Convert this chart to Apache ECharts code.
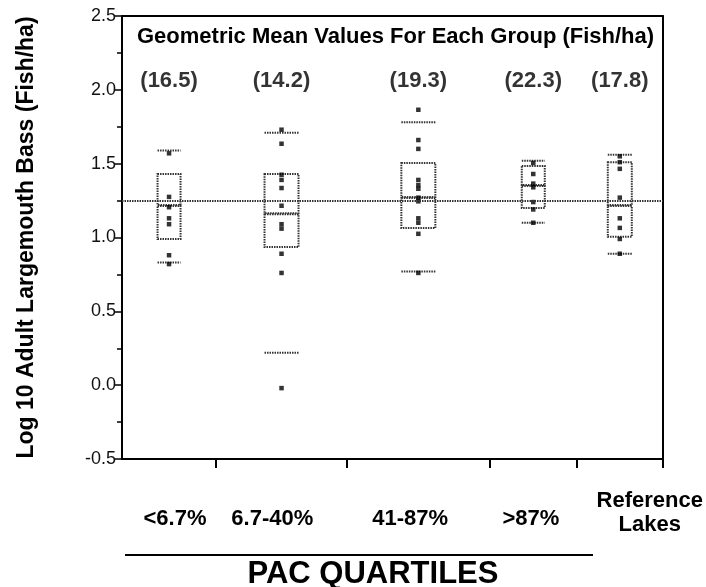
<!DOCTYPE html>
<html><head><meta charset="utf-8">
<script src="https://cdn.jsdelivr.net/npm/echarts@6/dist/echarts.min.js"></script>
<style>html,body{margin:0;padding:0;background:#fff}#c{width:706px;height:587px}</style>
</head><body><div id="c"></div>
<script>
// ---- data ----
const groups = ['<6.7%', '6.7-40%', '41-87%', '>87%', 'Reference\nLakes'];
const geoMeans = [16.5, 14.2, 19.3, 22.3, 17.8];
const overallMeanLog = 1.25;
const upperCap = [1.59, 1.71, 1.78, 1.52, 1.56];
const q3 = [1.43, 1.43, 1.505, 1.485, 1.51];
const median = [1.22, 1.165, 1.275, 1.355, 1.22];
const q1 = [0.99, 0.935, 1.065, 1.20, 1.005];
const lowerCap = [0.83, 0.22, 0.77, 1.10, 0.89];
const pts1 = [1.57, 1.275, 1.205, 1.13, 1.09, 0.88, 0.82];
const pts2 = [1.73, 1.635, 1.425, 1.39, 1.335, 1.215, 1.09, 1.06, 0.89, 0.76, -0.02];
const pts3 = [1.865, 1.66, 1.60, 1.39, 1.355, 1.33, 1.27, 1.245, 1.13, 1.10, 1.025, 0.76];
const pts4 = [1.505, 1.43, 1.365, 1.34, 1.24, 1.19, 1.10];
const pts5 = [1.55, 1.51, 1.465, 1.27, 1.13, 1.065, 0.99, 0.89];
const points = [pts1, pts2, pts3, pts4, pts5];
const yMin = -0.5, yMax = 2.5, yStep = 0.5;

// ---- layout (axis units / pixels) ----
const groupEdges = [0, 17.4, 41.6, 68.0, 84.1, 100];
const labelPos = [9.8, 27.8, 53.3, 75.6, 97.6];
const boxWidthPx = [23, 34, 34, 23, 24];
const centers = groups.map((g, i) => (groupEdges[i] + groupEdges[i + 1]) / 2);

const FONT = 'Liberation Sans, Arial, Helvetica, sans-serif';
const dotted = { stroke: '#333', fill: 'none', lineWidth: 2, lineDash: [1.5, 1] };

const boxData = groups.map((g, i) => [centers[i], upperCap[i], q3[i], median[i], q1[i], lowerCap[i], i]);
const scatterData = [];
points.forEach((arr, i) => arr.forEach(v => scatterData.push([centers[i], v])));
const meanLabelY = 2.06;
const meanData = geoMeans.map((m, i) => [centers[i], meanLabelY, m]);

const chart = echarts.init(document.getElementById('c'), null, { renderer: 'canvas' });
chart.setOption({
  animation: false,
  backgroundColor: '#fff',
  textStyle: { fontFamily: FONT },
  grid: { left: 122, right: 38, top: 16, bottom: 128 },
  xAxis: [{
    type: 'value', min: 0, max: 100, position: 'bottom',
    axisLine: { show: true, onZero: false, lineStyle: { color: '#000', width: 2 } },
    axisTick: { show: true, inside: false, length: 9, customValues: groupEdges.slice(1), lineStyle: { color: '#000', width: 2 } },
    splitLine: { show: false },
    axisLabel: {
      show: true, customValues: labelPos, margin: 54,
      formatter: (v) => {
        const i = labelPos.findIndex(p => Math.abs(p - v) < 0.01);
        if (i < 0) return '';
        const t = groups[i];
        return t.indexOf('\n') >= 0 ? t : '{s|' + t + '}';
      },
      rich: { s: { fontWeight: 'bold', fontSize: 22, fontFamily: FONT, color: '#000', padding: [12, 0, 0, 0] } },
      color: '#000', fontWeight: 'bold', fontSize: 22, fontFamily: FONT, lineHeight: 24, verticalAlign: 'middle'
    }
  }, {
    type: 'value', min: 0, max: 100, position: 'top',
    axisLine: { show: true, onZero: false, lineStyle: { color: '#000', width: 2 } },
    axisTick: { show: false }, axisLabel: { show: false }, splitLine: { show: false }
  }],
  yAxis: [{
    type: 'value', min: yMin, max: yMax, interval: yStep, position: 'left',
    name: 'Log 10 Adult Largemouth Bass (Fish/ha)', nameLocation: 'middle', nameGap: 84, nameRotate: 90,
    nameTextStyle: { color: '#000', fontWeight: 'bold', fontSize: 23, fontFamily: FONT },
    axisLine: { show: true, onZero: false, lineStyle: { color: '#000', width: 2 } },
    axisTick: { show: true, inside: false, length: 8, lineStyle: { color: '#000', width: 1.5 } },
    minorTick: { show: true, splitNumber: 2, length: 5, lineStyle: { color: '#000', width: 1.5 } },
    splitLine: { show: false },
    axisLabel: { formatter: v => v.toFixed(1), color: '#111', fontSize: 18, fontFamily: FONT, margin: 6 }
  }, {
    type: 'value', min: yMin, max: yMax, interval: yStep, position: 'right',
    axisLine: { show: true, onZero: false, lineStyle: { color: '#000', width: 2 } },
    axisTick: { show: false }, axisLabel: { show: false }, splitLine: { show: false }
  }],
  graphic: [
    { type: 'text', left: 137, top: 26, style: { text: 'Geometric Mean Values For Each Group (Fish/ha)', font: 'bold 22px ' + FONT, fill: '#000' } },
    { type: 'line', shape: { x1: 125, y1: 555, x2: 593, y2: 555 }, style: { stroke: '#000', lineWidth: 2 } },
    { type: 'text', x: 373, y: 574, style: { text: 'PAC QUARTILES', font: 'bold 31px ' + FONT, fill: '#000', align: 'center', verticalAlign: 'middle' } }
  ],
  series: [
    {
      type: 'custom', name: 'boxes', data: boxData,
      encode: { x: 0, y: [1, 5] },
      renderItem: (params, api) => {
        const x = api.value(0), i = api.value(6);
        const w = boxWidthPx[i];
        const pC = api.coord([x, api.value(1)]);
        const p3 = api.coord([x, api.value(2)]);
        const pM = api.coord([x, api.value(3)]);
        const p1 = api.coord([x, api.value(4)]);
        const pL = api.coord([x, api.value(5)]);
        const xl = pC[0] - w / 2, xr = pC[0] + w / 2;
        return {
          type: 'group', children: [
            { type: 'rect', shape: { x: xl, y: p3[1], width: w, height: pM[1] - p3[1] }, style: dotted },
            { type: 'rect', shape: { x: xl, y: pM[1] + 1, width: w, height: p1[1] - pM[1] - 1 }, style: dotted },
            { type: 'line', shape: { x1: xl, y1: pC[1], x2: xr, y2: pC[1] }, style: dotted },
            { type: 'line', shape: { x1: xl, y1: pL[1], x2: xr, y2: pL[1] }, style: dotted }
          ]
        };
      },
      z: 2
    },
    {
      type: 'scatter', name: 'lakes', data: scatterData, symbol: 'rect', symbolSize: 4.5,
      itemStyle: { color: '#000' }, z: 3,
      markLine: {
        silent: true, symbol: ['none', 'none'], label: { show: false },
        lineStyle: { color: '#333', type: [1.5, 1], width: 2 },
        data: [{ yAxis: overallMeanLog }]
      }
    },
    {
      type: 'scatter', name: 'means', data: meanData, symbolSize: 1,
      itemStyle: { color: 'rgba(0,0,0,0)' },
      label: {
        show: true, position: 'inside', formatter: p => '(' + p.value[2].toFixed(1) + ')',
        color: '#000', fontWeight: 'bold', fontSize: 22, fontFamily: FONT
      }
    }
  ]
});
</script></body></html>
